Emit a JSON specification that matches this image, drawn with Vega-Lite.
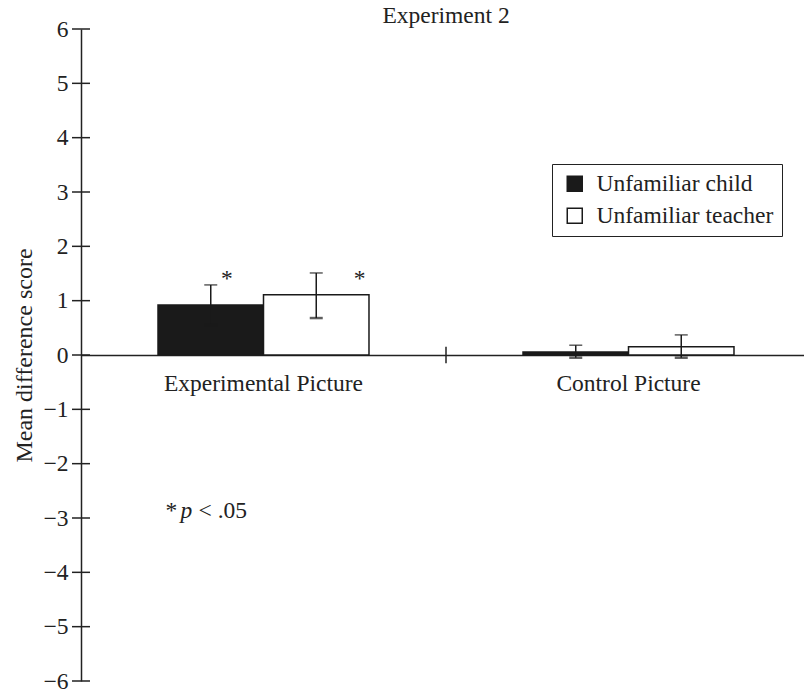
{
  "$schema": "https://vega.github.io/schema/vega-lite/v6.json",
  "autosize": "none",
  "padding": {"left": 81, "top": 29, "right": 0, "bottom": 9},
  "width": 730,
  "height": 652,
  "background": "white",
  "config": {
    "view": {"stroke": null},
    "font": "Liberation Serif",
    "text": {"font": "Liberation Serif", "fontSize": 23.5, "color": "#222"}
  },
  "title": {"text": "Experiment 2", "font": "Liberation Serif", "fontSize": 23.5, "fontWeight": "normal", "color": "#222", "anchor": "middle", "frame": "group", "offset": -10},
  "datasets": {
    "bars": [
      {"picture": "Experimental Picture", "group": "Unfamiliar child", "mean": 0.92, "lo": 0.55, "hi": 1.29},
      {"picture": "Experimental Picture", "group": "Unfamiliar teacher", "mean": 1.11, "lo": 0.68, "hi": 1.51},
      {"picture": "Control Picture", "group": "Unfamiliar child", "mean": 0.055, "lo": -0.05, "hi": 0.18},
      {"picture": "Control Picture", "group": "Unfamiliar teacher", "mean": 0.15, "lo": -0.05, "hi": 0.37}
    ],
    "yticks": [
      {"picture": "Experimental Picture", "v": -6}, {"picture": "Experimental Picture", "v": -5},
      {"picture": "Experimental Picture", "v": -4}, {"picture": "Experimental Picture", "v": -3},
      {"picture": "Experimental Picture", "v": -2}, {"picture": "Experimental Picture", "v": -1},
      {"picture": "Experimental Picture", "v": 0}, {"picture": "Experimental Picture", "v": 1},
      {"picture": "Experimental Picture", "v": 2}, {"picture": "Experimental Picture", "v": 3},
      {"picture": "Experimental Picture", "v": 4}, {"picture": "Experimental Picture", "v": 5},
      {"picture": "Experimental Picture", "v": 6}
    ],
    "sep": [{"picture": "Control Picture", "lo": -0.15, "hi": 0.15}],
    "starChild": [{"picture": "Experimental Picture", "group": "Unfamiliar child", "y": 1.27, "label": "*"}],
    "starTeacher": [{"picture": "Experimental Picture", "group": "Unfamiliar teacher", "y": 1.27, "label": "*"}],
    "noteStar": [{"picture": "Experimental Picture", "y": -3.0, "label": "*"}],
    "noteP": [{"picture": "Experimental Picture", "y": -3.0, "label": "p"}],
    "noteRest": [{"picture": "Experimental Picture", "y": -3.0, "label": "< .05"}]
  },
  "encoding": {
    "x": {
      "field": "picture", "type": "nominal", "title": null,
      "sort": ["Experimental Picture", "Control Picture"],
      "scale": {"domain": ["Experimental Picture", "Control Picture"], "paddingInner": 0, "paddingOuter": 0},
      "axis": {
        "orient": "bottom", "offset": -326, "labelAngle": 0, "ticks": false, "tickSize": 0, "labelLimit": 0,
        "labelPadding": 16, "labelFont": "Liberation Serif", "labelFontSize": 23.5, "labelColor": "#222",
        "domainColor": "#222", "domainWidth": 1.5, "grid": false
      }
    }
  },
  "layer": [
    {
      "data": {"name": "bars"},
      "mark": {"type": "bar", "stroke": "#1a1a1a", "strokeWidth": 1.5},
      "encoding": {
        "xOffset": {"field": "group", "type": "nominal", "sort": ["Unfamiliar child", "Unfamiliar teacher"], "scale": {"paddingInner": 0, "paddingOuter": 0.73}},
        "y": {
          "field": "mean", "type": "quantitative",
          "scale": {"domain": [-6, 6], "nice": false, "zero": false},
          "axis": {
            "orient": "left", "values": [-6, -5, -4, -3, -2, -1, 0, 1, 2, 3, 4, 5, 6], "format": "d",
            "title": "Mean difference score", "titleFont": "Liberation Serif", "titleFontSize": 24, "titleFontWeight": "normal", "titleColor": "#222", "titlePadding": 6,
            "labelFont": "Liberation Serif", "labelFontSize": 23.5, "labelColor": "#222", "labelPadding": 13,
            "ticks": false, "tickSize": 0, "domainColor": "#222", "domainWidth": 1.5, "grid": false
          }
        },
        "fill": {
          "field": "group", "type": "nominal",
          "scale": {"domain": ["Unfamiliar child", "Unfamiliar teacher"], "range": ["#1a1a1a", "#ffffff"]},
          "legend": {
            "orient": "none", "legendX": 471, "legendY": 135, "title": null,
            "strokeColor": "#222", "padding": 8, "rowPadding": 7,
            "symbolType": "square", "symbolSize": 225, "symbolStrokeColor": "#1a1a1a", "symbolStrokeWidth": 1.5, "symbolOffset": 3,
            "labelFont": "Liberation Serif", "labelFontSize": 23.5, "labelColor": "#222", "labelOffset": 10, "labelLimit": 400
          }
        }
      }
    },
    {
      "data": {"name": "yticks"},
      "mark": {"type": "point", "shape": "M-1,0H1", "size": 324, "filled": false, "stroke": "#222", "strokeWidth": 1.5, "opacity": 1},
      "encoding": {
        "x": {"field": "picture", "type": "nominal", "bandPosition": 0},
        "y": {"field": "v", "type": "quantitative"}
      }
    },
    {
      "data": {"name": "bars"},
      "mark": {"type": "rule", "color": "#1a1a1a", "strokeWidth": 1.5},
      "encoding": {
        "xOffset": {"field": "group", "type": "nominal", "sort": ["Unfamiliar child", "Unfamiliar teacher"]},
        "y": {"field": "lo", "type": "quantitative"},
        "y2": {"field": "hi"}
      }
    },
    {
      "data": {"name": "bars"},
      "mark": {"type": "tick", "color": "#1a1a1a", "thickness": 1.5, "size": 13},
      "encoding": {
        "xOffset": {"field": "group", "type": "nominal", "sort": ["Unfamiliar child", "Unfamiliar teacher"]},
        "y": {"field": "hi", "type": "quantitative"}
      }
    },
    {
      "data": {"name": "bars"},
      "mark": {"type": "tick", "color": "#1a1a1a", "thickness": 2.5, "size": 13},
      "encoding": {
        "xOffset": {"field": "group", "type": "nominal", "sort": ["Unfamiliar child", "Unfamiliar teacher"]},
        "y": {"field": "lo", "type": "quantitative"}
      }
    },
    {
      "data": {"name": "sep"},
      "mark": {"type": "rule", "color": "#222", "strokeWidth": 1.5},
      "encoding": {
        "x": {"field": "picture", "type": "nominal", "bandPosition": 0},
        "y": {"field": "lo", "type": "quantitative"},
        "y2": {"field": "hi"}
      }
    },
    {
      "data": {"name": "starChild"},
      "mark": {"type": "text", "align": "center", "baseline": "alphabetic", "dx": 16, "color": "#222"},
      "encoding": {
        "xOffset": {"field": "group", "type": "nominal"},
        "y": {"field": "y", "type": "quantitative"},
        "text": {"field": "label"}
      }
    },
    {
      "data": {"name": "starTeacher"},
      "mark": {"type": "text", "align": "center", "baseline": "alphabetic", "dx": 96, "color": "#222"},
      "encoding": {
        "y": {"field": "y", "type": "quantitative"},
        "text": {"field": "label"}
      }
    },
    {
      "data": {"name": "noteStar"},
      "mark": {"type": "text", "align": "left", "baseline": "alphabetic", "dx": -98, "color": "#222"},
      "encoding": {
        "y": {"field": "y", "type": "quantitative"},
        "text": {"field": "label"}
      }
    },
    {
      "data": {"name": "noteP"},
      "mark": {"type": "text", "align": "left", "baseline": "alphabetic", "dx": -83, "fontStyle": "italic", "color": "#222"},
      "encoding": {
        "y": {"field": "y", "type": "quantitative"},
        "text": {"field": "label"}
      }
    },
    {
      "data": {"name": "noteRest"},
      "mark": {"type": "text", "align": "left", "baseline": "alphabetic", "dx": -65, "color": "#222"},
      "encoding": {
        "y": {"field": "y", "type": "quantitative"},
        "text": {"field": "label"}
      }
    }
  ]
}
